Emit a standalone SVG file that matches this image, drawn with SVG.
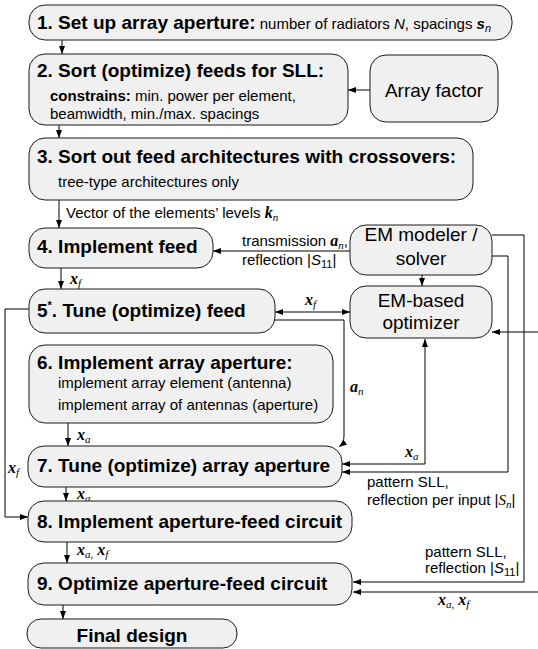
<svg xmlns="http://www.w3.org/2000/svg" width="538" height="649" viewBox="0 0 538 649">
<style>
.box{fill:#f0f0f0;stroke:#1a1a1a;stroke-width:1}
.t{font-family:"Liberation Sans",Arial,sans-serif;font-size:19px;font-weight:bold;fill:#000}
.s{font-family:"Liberation Sans",Arial,sans-serif;font-size:15px;fill:#000}
.e{font-family:"Liberation Sans",Arial,sans-serif;font-size:19px;fill:#000}
.v{font-family:"Liberation Serif","Times New Roman",serif;font-size:16px;font-weight:bold;font-style:italic;fill:#000}
.sb{font-size:11px;font-weight:normal;font-style:italic}
.c{fill:none;stroke:#000;stroke-width:1}
</style>
<defs>
<marker id="ah" markerUnits="userSpaceOnUse" markerWidth="9" markerHeight="6" refX="8" refY="3" orient="auto">
<path d="M0,0 L8,3 L0,6 z" fill="#000"/>
</marker>
<marker id="as" markerUnits="userSpaceOnUse" markerWidth="9" markerHeight="6" refX="8" refY="3" orient="auto-start-reverse">
<path d="M0,0 L8,3 L0,6 z" fill="#000"/>
</marker>
</defs>

<g id="connectors">
<path class="c" d="M62,40 V54" marker-end="url(#ah)"/>
<path class="c" d="M370,90 H348" marker-end="url(#ah)"/>
<path class="c" d="M59,125 V138" marker-end="url(#ah)"/>
<path class="c" d="M59,200 V228" marker-end="url(#ah)"/>
<path class="c" d="M350,251 H213" marker-end="url(#ah)"/>
<path class="c" d="M422,275 V286" marker-end="url(#ah)"/>
<path class="c" d="M61,268 V289" marker-end="url(#ah)"/>
<path class="c" d="M275,312 H350" marker-start="url(#as)" marker-end="url(#ah)"/>
<path class="c" d="M272,320 H344 V436 Q344,443 339,447" marker-end="url(#ah)"/>
<path class="c" d="M538,332 H492" marker-end="url(#ah)"/>
<path class="c" d="M425,464 V339" marker-end="url(#ah)"/>
<path class="c" d="M425,464 H342" marker-end="url(#ah)"/>
<path class="c" d="M492,256 H508 V472 H342" marker-end="url(#ah)"/>
<path class="c" d="M492,235 H524 V582 H353" marker-end="url(#ah)"/>
<path class="c" d="M538,592 H353" marker-end="url(#ah)"/>
<path class="c" d="M68,423 V446" marker-end="url(#ah)"/>
<path class="c" d="M66,487 V501" marker-end="url(#ah)"/>
<path class="c" d="M67,542 V563" marker-end="url(#ah)"/>
<path class="c" d="M63,605 V619" marker-end="url(#ah)"/>
<path class="c" d="M29,309 H5 V517 H28" marker-end="url(#ah)"/>
</g>

<g id="labels">
<text class="s" x="66" y="218">Vector of the elements’ levels <tspan class="v">k</tspan><tspan class="v sb" dy="3">n</tspan></text>
<text class="s" x="242" y="246">transmission <tspan class="v">a</tspan><tspan class="v sb" dy="3">n</tspan><tspan dy="-3">,</tspan></text>
<text class="s" x="242" y="265">reflection |<tspan font-style="italic">S</tspan><tspan font-size="11" dy="3">11</tspan><tspan dy="-3">|</tspan></text>
<text class="v" x="70" y="284">x<tspan class="sb" dy="3">f</tspan></text>
<text class="v" x="305" y="305">x<tspan class="sb" dy="3">f</tspan></text>
<text class="v" x="350" y="392">a<tspan class="sb" dy="3">n</tspan></text>
<text class="v" x="77" y="440">x<tspan class="sb" dy="3">a</tspan></text>
<text class="v" x="405" y="457">x<tspan class="sb" dy="3">a</tspan></text>
<text class="v" x="8" y="473">x<tspan class="sb" dy="3">f</tspan></text>
<text class="s" x="367" y="487">pattern SLL,</text>
<text class="s" x="367" y="505">reflection per input |<tspan font-family="Liberation Serif" font-style="italic">S</tspan><tspan font-family="Liberation Serif" font-style="italic" font-size="11" dy="3">n</tspan><tspan dy="-3">|</tspan></text>
<text class="v" x="77" y="499">x<tspan class="sb" dy="3">a</tspan></text>
<text class="v" x="77" y="555">x<tspan class="sb" dy="3">a,</tspan><tspan dy="-3"> x</tspan><tspan class="sb" dy="3">f</tspan></text>
<text class="s" x="425" y="557">pattern SLL,</text>
<text class="s" x="425" y="573">reflection |<tspan font-style="italic">S</tspan><tspan font-size="11" dy="3">11</tspan><tspan dy="-3">|</tspan></text>
<text class="v" x="438" y="605">x<tspan class="sb" dy="3">a,</tspan><tspan dy="-3"> x</tspan><tspan class="sb" dy="3">f</tspan></text>
</g>

<g id="n1">
<rect class="box" x="29" y="5" width="483" height="35" rx="16"/>
<text x="37" y="29"><tspan class="t">1. Set up array aperture:</tspan><tspan class="s"> number of radiators <tspan font-style="italic">N</tspan>, spacings <tspan font-style="italic" font-weight="bold">s</tspan><tspan font-style="italic" font-size="11" dy="3">n</tspan></tspan></text>
</g>

<g id="n2">
<rect class="box" x="29" y="54" width="319" height="71" rx="16"/>
<text class="t" x="37" y="77">2. Sort (optimize) feeds for SLL:</text>
<text class="s" x="50" y="101"><tspan font-weight="bold">constrains:</tspan> min. power per element,</text>
<text class="s" x="50" y="119">beamwidth, min./max. spacings</text>
</g>

<g id="n_af">
<rect class="box" x="370" y="55" width="128" height="67" rx="16"/>
<text class="e" x="434" y="97" text-anchor="middle">Array factor</text>
</g>

<g id="n3">
<rect class="box" x="29" y="138" width="444" height="62" rx="16"/>
<text class="t" x="37" y="163">3. Sort out feed architectures with crossovers:</text>
<text class="s" x="58" y="187">tree-type architectures only</text>
</g>

<g id="n4">
<rect class="box" x="29" y="228" width="184" height="40" rx="16"/>
<text class="t" x="37" y="253">4. Implement feed</text>
</g>

<g id="n_em">
<rect class="box" x="350" y="225" width="142" height="50" rx="16"/>
<text class="e" x="421" y="241" text-anchor="middle">EM modeler /</text>
<text class="e" x="421" y="265" text-anchor="middle">solver</text>
</g>

<g id="n5">
<rect class="box" x="29" y="289" width="246" height="44" rx="16"/>
<text class="t" x="37" y="317">5<tspan font-size="11" dy="-8">*</tspan><tspan dy="8">. Tune (optimize) feed</tspan></text>
</g>

<g id="n_opt">
<rect class="box" x="350" y="286" width="142" height="52" rx="16"/>
<text class="e" x="421" y="307" text-anchor="middle">EM-based</text>
<text class="e" x="421" y="329" text-anchor="middle">optimizer</text>
</g>

<g id="n6">
<rect class="box" x="29" y="345" width="304" height="78" rx="16"/>
<text class="t" x="37" y="369">6. Implement array aperture:</text>
<text class="s" x="58" y="388">implement array element (antenna)</text>
<text class="s" x="58" y="410">implement array of antennas (aperture)</text>
</g>

<g id="n7">
<rect class="box" x="28" y="446" width="314" height="41" rx="16"/>
<text class="t" x="37" y="472">7. Tune (optimize) array aperture</text>
</g>

<g id="n8">
<rect class="box" x="28" y="501" width="324" height="41" rx="16"/>
<text class="t" x="37" y="528">8. Implement aperture-feed circuit</text>
</g>

<g id="n9">
<rect class="box" x="28" y="563" width="324" height="42" rx="16"/>
<text class="t" x="37" y="590">9. Optimize aperture-feed circuit</text>
</g>

<g id="n_final">
<rect class="box" x="27" y="619" width="210" height="29" rx="14"/>
<text class="t" x="132" y="642" text-anchor="middle">Final design</text>
</g>
</svg>
